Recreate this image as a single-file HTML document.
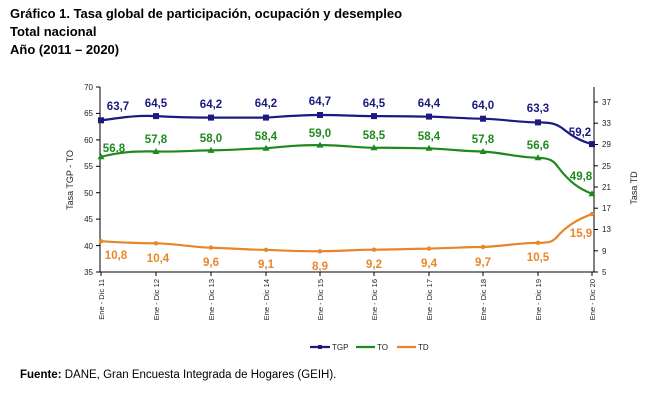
<!DOCTYPE html>
<html><head><meta charset="utf-8"><style>
body{margin:0;background:#fff;width:670px;height:402px;overflow:hidden;font-family:"Liberation Sans",Arial,sans-serif}
</style></head><body>
<svg width="670" height="402" xmlns="http://www.w3.org/2000/svg" font-family="Liberation Sans, Arial, sans-serif">
<g font-weight="bold" font-size="13" fill="#000">
<text x="10" y="18">Gráfico 1. Tasa global de participación, ocupación y desempleo</text>
<text x="10" y="36">Total nacional</text>
<text x="10" y="54">Año (2011 – 2020)</text>
</g>
<g stroke="#000" stroke-width="1" fill="none">
<line x1="100" y1="87" x2="100" y2="272"/>
<line x1="100" y1="272" x2="594" y2="272"/>
<line x1="594" y1="87" x2="594" y2="272"/>
</g>
<g stroke="#000" stroke-width="1">
<line x1="96" y1="87" x2="100" y2="87"/><line x1="96" y1="113.4" x2="100" y2="113.4"/><line x1="96" y1="139.9" x2="100" y2="139.9"/><line x1="96" y1="166.3" x2="100" y2="166.3"/><line x1="96" y1="192.7" x2="100" y2="192.7"/><line x1="96" y1="219.1" x2="100" y2="219.1"/><line x1="96" y1="245.6" x2="100" y2="245.6"/><line x1="96" y1="272" x2="100" y2="272"/>
<line x1="594" y1="102" x2="598" y2="102"/><line x1="594" y1="123.2" x2="598" y2="123.2"/><line x1="594" y1="144.5" x2="598" y2="144.5"/><line x1="594" y1="165.8" x2="598" y2="165.8"/><line x1="594" y1="187" x2="598" y2="187"/><line x1="594" y1="208.2" x2="598" y2="208.2"/><line x1="594" y1="229.5" x2="598" y2="229.5"/><line x1="594" y1="250.8" x2="598" y2="250.8"/><line x1="594" y1="272" x2="598" y2="272"/>
<line x1="101" y1="272" x2="101" y2="276"/><line x1="156" y1="272" x2="156" y2="276"/><line x1="211" y1="272" x2="211" y2="276"/><line x1="266" y1="272" x2="266" y2="276"/><line x1="320" y1="272" x2="320" y2="276"/><line x1="374" y1="272" x2="374" y2="276"/><line x1="429" y1="272" x2="429" y2="276"/><line x1="483" y1="272" x2="483" y2="276"/><line x1="538" y1="272" x2="538" y2="276"/><line x1="592" y1="272" x2="592" y2="276"/>
</g>
<g font-size="8" fill="#222" text-anchor="end">
<text x="93" y="90">70</text><text x="93" y="116">65</text><text x="93" y="143">60</text><text x="93" y="169">55</text><text x="93" y="196">50</text><text x="93" y="222">45</text><text x="93" y="249">40</text><text x="93" y="275">35</text>
</g>
<g font-size="8" fill="#222">
<text x="602" y="105">37</text><text x="602" y="126">33</text><text x="602" y="147">29</text><text x="602" y="169">25</text><text x="602" y="190">21</text><text x="602" y="211">17</text><text x="602" y="232">13</text><text x="602" y="254">9</text><text x="602" y="275">5</text>
</g>
<text transform="translate(73,180) rotate(-90)" font-size="9" text-anchor="middle" fill="#222">Tasa TGP - TO</text>
<text transform="translate(637,188) rotate(-90)" font-size="9" text-anchor="middle" fill="#222">Tasa TD</text>
<g font-size="7.5" fill="#222" text-anchor="end">
<text transform="translate(104,279) rotate(-90)">Ene - Dic 11</text>
<text transform="translate(159,279) rotate(-90)">Ene - Dic 12</text>
<text transform="translate(214,279) rotate(-90)">Ene - Dic 13</text>
<text transform="translate(269,279) rotate(-90)">Ene - Dic 14</text>
<text transform="translate(323,279) rotate(-90)">Ene - Dic 15</text>
<text transform="translate(377,279) rotate(-90)">Ene - Dic 16</text>
<text transform="translate(432,279) rotate(-90)">Ene - Dic 17</text>
<text transform="translate(486,279) rotate(-90)">Ene - Dic 18</text>
<text transform="translate(541,279) rotate(-90)">Ene - Dic 19</text>
<text transform="translate(595,279) rotate(-90)">Ene - Dic 20</text>
</g>
<g fill="none" stroke-width="2.2" stroke-linejoin="round" stroke-linecap="round">
<path stroke="#1a1a80" d="M101,120.3 C120,118 135,115 156,116.1 C180,117.5 195,117.6 211,117.6 C235,117.6 250,117.6 266,117.6 C290,116 300,115 320,115 C345,115 355,116.1 374,116.1 C400,116 415,116.6 429,116.6 C450,117 465,118.7 483,118.7 C505,119.5 520,122.4 538,122.4 C552,122.4 556,124 562,128 C572,136 580,141 592,144.1"/>
<path stroke="#1e8a1e" d="M101,156.8 C120,152 135,151 156,151.5 C180,152 195,150.4 211,150.4 C240,150 250,148.3 266,148.3 C290,146 300,145.1 320,145.1 C345,145 355,147.8 374,147.8 C400,147.5 415,148.3 429,148.3 C455,149.5 465,151.5 483,151.5 C505,153 520,157.8 538,157.8 C550,158 554,161 558,167 C570,183 580,189 592,193.8"/>
<path stroke="#e8862a" d="M101,241.2 C120,242.5 135,243.3 156,243.3 C180,244 195,247.6 211,247.6 C235,248.5 250,249.8 266,249.8 C290,251 300,251.3 320,251.3 C345,251 355,249.7 374,249.7 C400,249.5 415,248.6 429,248.6 C455,248 465,247 483,247 C505,246 520,242.8 538,242.8 C548,243 552,242 556,238 C566,226 578,219 592,214.1"/>
</g>
<g fill="#1a1a80">
<rect x="98" y="117.3" width="6" height="6"/><rect x="153" y="113.1" width="6" height="6"/><rect x="208" y="114.6" width="6" height="6"/><rect x="263" y="114.6" width="6" height="6"/><rect x="317" y="112" width="6" height="6"/><rect x="371" y="113.1" width="6" height="6"/><rect x="426" y="113.6" width="6" height="6"/><rect x="480" y="115.7" width="6" height="6"/><rect x="535" y="119.4" width="6" height="6"/><rect x="589" y="141.1" width="6" height="6"/>
</g>
<g fill="#1e8a1e">
<path d="M101,153.3l3.5,6h-7z"/><path d="M156,148l3.5,6h-7z"/><path d="M211,146.9l3.5,6h-7z"/><path d="M266,144.8l3.5,6h-7z"/><path d="M320,141.6l3.5,6h-7z"/><path d="M374,144.3l3.5,6h-7z"/><path d="M429,144.8l3.5,6h-7z"/><path d="M483,148l3.5,6h-7z"/><path d="M538,154.3l3.5,6h-7z"/><path d="M592,190.3l3.5,6h-7z"/>
</g>
<g fill="#e8862a">
<circle cx="101" cy="241.2" r="2.2"/><circle cx="156" cy="243.3" r="2.2"/><circle cx="211" cy="247.6" r="2.2"/><circle cx="266" cy="249.8" r="2.2"/><circle cx="320" cy="251.3" r="2.2"/><circle cx="374" cy="249.7" r="2.2"/><circle cx="429" cy="248.6" r="2.2"/><circle cx="483" cy="247" r="2.2"/><circle cx="538" cy="242.8" r="2.2"/><circle cx="592" cy="214.1" r="2.2"/>
</g>
<g font-size="11.5" font-weight="bold" text-anchor="middle">
<g fill="#1a1a80">
<text x="118" y="110">63,7</text><text x="156" y="107">64,5</text><text x="211" y="108">64,2</text><text x="266" y="107">64,2</text><text x="320" y="105">64,7</text><text x="374" y="107">64,5</text><text x="429" y="107">64,4</text><text x="483" y="109">64,0</text><text x="538" y="112">63,3</text><text x="580" y="136">59,2</text>
</g>
<g fill="#1e8a1e">
<text x="114" y="152">56,8</text><text x="156" y="143">57,8</text><text x="211" y="142">58,0</text><text x="266" y="140">58,4</text><text x="320" y="137">59,0</text><text x="374" y="139">58,5</text><text x="429" y="140">58,4</text><text x="483" y="143">57,8</text><text x="538" y="149">56,6</text><text x="581" y="180">49,8</text>
</g>
<g fill="#e8862a">
<text x="116" y="259">10,8</text><text x="158" y="262">10,4</text><text x="211" y="266">9,6</text><text x="266" y="268">9,1</text><text x="320" y="270">8,9</text><text x="374" y="268">9,2</text><text x="429" y="267">9,4</text><text x="483" y="266">9,7</text><text x="538" y="261">10,5</text><text x="581" y="237">15,9</text>
</g>
</g>
<g stroke-width="2.2">
<line x1="310" y1="347" x2="330" y2="347" stroke="#1a1a80"/><rect x="318" y="345" width="4" height="4" fill="#1a1a80"/>
<line x1="356" y1="347" x2="375" y2="347" stroke="#1e8a1e"/>
<line x1="397" y1="347" x2="416" y2="347" stroke="#e8862a"/>
</g>
<g font-size="8" fill="#222">
<text x="332" y="350">TGP</text><text x="377" y="350">TO</text><text x="418" y="350">TD</text>
</g>
<text x="20" y="378" font-size="11.5" fill="#000"><tspan font-weight="bold">Fuente:</tspan> DANE, Gran Encuesta Integrada de Hogares (GEIH).</text>
</svg>
</body></html>
